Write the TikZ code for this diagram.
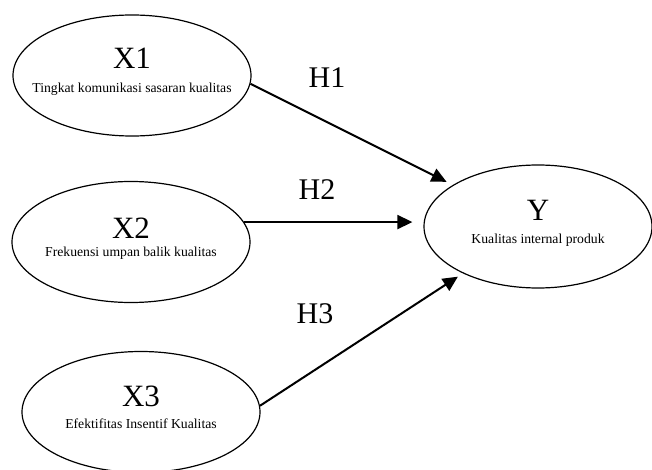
\documentclass[tikz,border=0pt]{standalone}
\usepackage{fontspec}
\setmainfont{Liberation Serif}
\usetikzlibrary{shapes.geometric,arrows.meta}

\tikzset{
  every variable/.style={ellipse, draw, line width=1.2pt, inner xsep=-40pt, inner ysep=0pt,
    align=center, font=\fontsize{13.7}{21}\selectfont, text depth=10pt},
  effect/.style={->, line width=2pt},
  hypo/.style={font=\fontsize{30}{30}\selectfont, inner sep=0pt}
}
\newcommand{\varname}[1]{{\fontsize{31}{31}\selectfont #1}}

\begin{document}
\begin{tikzpicture}[x=1pt, y=-1pt, >={Triangle[length=15pt, width=14pt]}]
            \useasboundingbox (0,0) rectangle (652,470);

            % variables
            \foreach \m/\l/\x/\y/\s in {1/Tingkat komunikasi sasaran kualitas/132/75.5/3pt,
                                        2/Frekuensi umpan balik kualitas/131/242/-3pt,
                                        3/Efektifitas Insentif Kualitas/141/412/1pt}
            \node [every variable, minimum width=238pt, minimum height=121pt] (x\m) at (\x,\y)
            {\varname{X\m}\\[\s] \l};

            \node [every variable, minimum width=228pt, minimum height=123pt] (y) at (538,226.5)
            {\varname{Y}\\[2pt] Kualitas internal produk};

            % paths
            \draw [effect, shorten >=7pt] (x1.-4) -- (y.154);
            \draw [effect, shorten >=11pt] (x2.10) -- (x2.10 -| y.west);
            \draw [effect, shorten >=6pt] (x3.3) -- (y.212);

            % labels
            \foreach \l/\x/\y in {1/327/77.5, 2/317/190, 3/315/313.5}
            \node [hypo] (h\l) at (\x,\y) {H\l};
\end{tikzpicture}
\end{document}
